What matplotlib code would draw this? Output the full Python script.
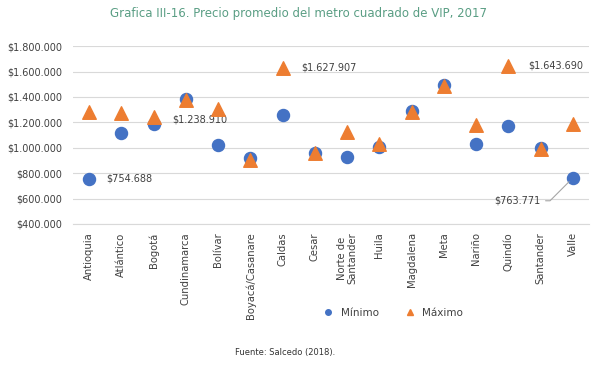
import numpy as np
import matplotlib.pyplot as plt
from matplotlib.lines import Line2D

# datos
departamentos = ['Antioquia', 'Atlántico', 'Bogotá', 'Cundinamarca', 'Bolívar',
                 'Boyacá/Casanare', 'Caldas', 'Cesar', 'Norte de\nSantander', 'Huila',
                 'Magdalena', 'Meta', 'Nariño', 'Quindío', 'Santander', 'Valle']
minimo = [754688, 1118000, 1184000, 1383000, 1019000, 919000, 1255000, 956000,
          929000, 1008000, 1289000, 1493000, 1029000, 1169000, 998000, 763771]
maximo = [1284000, 1276000, 1238910, 1373000, 1305000, 904000, 1627907, 961000,
          1126000, 1027000, 1279000, 1485000, 1179000, 1643690, 994000, 1189000]

azul = '#4472C4'
naranja = '#ED7D31'
gris = '#404040'

def pesos(v, pos=None):
    return '$' + f'{int(v):,}'.replace(',', '.')

fig = plt.figure(figsize=(5.96, 3.66), dpi=100)
ax = fig.add_axes([0.1225, 0.388, 0.866, 0.486])

x = np.arange(len(departamentos))
ax.scatter(x, minimo, s=75, marker='o', color=azul, zorder=3)
ax.scatter(x, maximo, s=95, marker='^', color=naranja, zorder=4)

ax.set_xlim(-0.5, len(departamentos) - 0.5)
ax.set_ylim(400000, 1800000)
ax.set_yticks(np.arange(400000, 1800001, 200000))
ax.yaxis.set_major_formatter(plt.FuncFormatter(pesos))
ax.grid(axis='y', color='#d9d9d9', linewidth=0.8, zorder=0)
ax.set_axisbelow(True)
for s in ['top', 'right', 'left']:
    ax.spines[s].set_visible(False)
ax.spines['bottom'].set_color('#d9d9d9')
ax.tick_params(length=0, labelsize=7, colors=gris)
ax.set_xticks(x)
ax.set_xticklabels(departamentos, rotation=90, va='top', ha='center', fontsize=7.2,
                   linespacing=0.95)
ax.tick_params(axis='x', pad=6)
ax.tick_params(axis='y', pad=8)

# etiquetas de datos
kw = dict(textcoords='offset pixels', fontsize=7, color=gris, va='center')
ax.annotate(pesos(minimo[0]), (0, minimo[0]), xytext=(17, 0), ha='left', **kw)
ax.annotate(pesos(maximo[2]), (2, maximo[2]), xytext=(19, -2), ha='left', **kw)
ax.annotate(pesos(maximo[6]), (6, maximo[6]), xytext=(19, 0), ha='left', **kw)
ax.annotate(pesos(maximo[13]), (13, maximo[13]), xytext=(20, 0), ha='left', **kw)
ax.annotate(pesos(minimo[15]), (15, minimo[15]), xytext=(-33, -23), ha='right',
            arrowprops=dict(arrowstyle='-', color='#a6a6a6', lw=0.8,
                            shrinkA=2, shrinkB=4,
                            connectionstyle='angle,angleA=0,angleB=45,rad=0'), **kw)

fig.text(0.5, 0.963, 'Grafica III-16. Precio promedio del metro cuadrado de VIP, 2017',
         ha='center', va='center', fontsize=8.5, color='#5a9e84')

handles = [Line2D([], [], marker='o', color=azul, linestyle='', markersize=4),
           Line2D([], [], marker='^', color=naranja, linestyle='', markersize=4)]
fig.legend(handles, ['Mínimo', 'Máximo'], loc='center', bbox_to_anchor=(0.655, 0.145),
           ncol=2, frameon=False, fontsize=7.5, handletextpad=0.2, columnspacing=2.0,
           labelcolor=gris)

fig.text(0.395, 0.038, 'Fuente: Salcedo (2018).', ha='left', va='center', fontsize=6,
         color='#333333')

fig.savefig('out.png', dpi=100)
